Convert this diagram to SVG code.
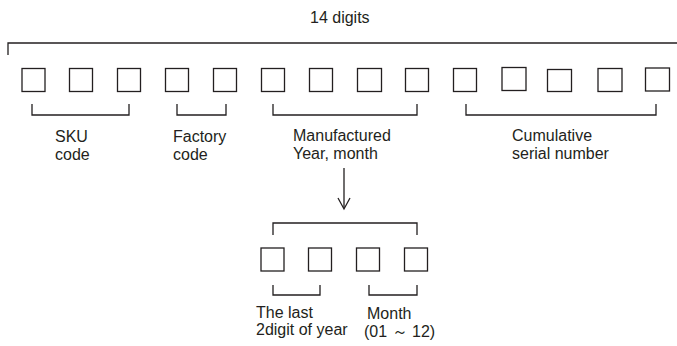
<svg xmlns="http://www.w3.org/2000/svg" width="677" height="346" viewBox="0 0 677 346">
<style>
.b{fill:#fff;stroke:#231f20;stroke-width:1.3}
.l{fill:none;stroke:#231f20;stroke-width:1.3}
text{font-family:"Liberation Sans",Arial,sans-serif;font-size:16px;fill:#231f20}
</style>
<rect width="677" height="346" fill="#fff"/>
<g id="connectors">
<path class="l" d="M8,55V43H677"/>
<path class="l" d="M32,104V115H129V104"/>
<path class="l" d="M177,104V115H226V104"/>
<path class="l" d="M273,104V115H417V104"/>
<path class="l" d="M466,104V115H656V104"/>
<path class="l" d="M344,168V208"/>
<path class="l" d="M338,198L344,209L350,198"/>
<path class="l" d="M273,235V223H417V235"/>
<path class="l" d="M273,285V295H320V285"/>
<path class="l" d="M369,285V295H417V285"/>
</g>
<g id="title"><text x="310" y="23" font-size="15.5">14 digits</text></g>
<g id="digits">
<rect class="b" x="22" y="68.5" width="23" height="23"/>
<rect class="b" x="69.5" y="68.5" width="23" height="23"/>
<rect class="b" x="117.5" y="68.5" width="23" height="23"/>
<rect class="b" x="165.5" y="68.5" width="23" height="23"/>
<rect class="b" x="213.5" y="68.5" width="23" height="23"/>
<rect class="b" x="261.5" y="68.5" width="23" height="23"/>
<rect class="b" x="309.5" y="68.5" width="23" height="23"/>
<rect class="b" x="357.5" y="68.5" width="24" height="23"/>
<rect class="b" x="405.5" y="68.5" width="23" height="23"/>
<rect class="b" x="453.5" y="68.5" width="23" height="23"/>
<rect class="b" x="502" y="67.5" width="24" height="23"/>
<rect class="b" x="547.5" y="69.5" width="24" height="22"/>
<rect class="b" x="598" y="68.5" width="24" height="23"/>
<rect class="b" x="645.5" y="68" width="24" height="23"/>
</g>
<g id="sku"><text x="55" y="142">SKU</text><text x="55" y="160">code</text></g>
<g id="factory"><text x="173" y="142">Factory</text><text x="173" y="160">code</text></g>
<g id="manufactured"><text x="293" y="141">Manufactured</text><text x="293" y="159">Year, month</text></g>
<g id="serial"><text x="512" y="141">Cumulative</text><text x="512" y="159">serial number</text></g>
<g id="yearmonth">
<rect class="b" x="261" y="248" width="23" height="23"/>
<rect class="b" x="308.5" y="248" width="23" height="23"/>
<rect class="b" x="356.5" y="248" width="23" height="23"/>
<rect class="b" x="404.5" y="248" width="23" height="23"/>
</g>
<g id="year"><text x="256" y="318">The last</text><text x="256" y="335">2digit of year</text></g>
<g id="month"><text x="367" y="319">Month</text><text x="364" y="337">(01 ～ 12)</text></g>
</svg>
